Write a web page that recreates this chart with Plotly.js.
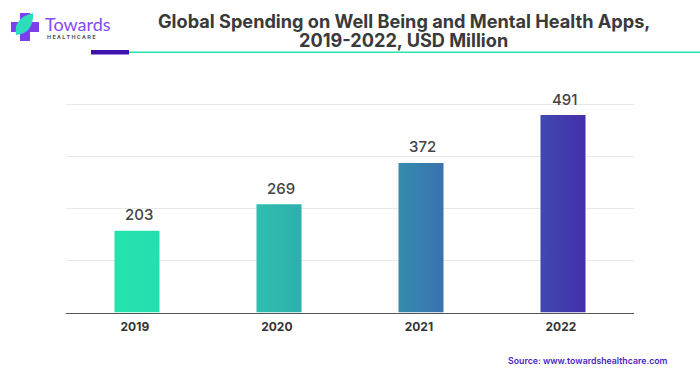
<!DOCTYPE html>
<html>
<head>
<meta charset="utf-8">
<script src="https://cdn.plot.ly/plotly-3.0.1.min.js"></script>
<style>html,body{margin:0;padding:0;background:#fff}#chart{width:700px;height:376px}</style>
</head>
<body>
<div id="chart"></div>
<script>
const years = ['2019', '2020', '2021', '2022'];
const spending = [203, 269, 372, 491];
const gradientStart = ['#26E3AD', '#2EBFAE', '#348CAE', '#404AAE'];
const gradientEnd = ['#24DEB0', '#2EAFAE', '#3A72AE', '#452EAB'];
const titleLine1 = 'Global Spending on Well Being and Mental Health Apps,';
const titleLine2 = '2019-2022, USD Million';
const sourceText = 'Source: www.towardshealthcare.com';

const W = 700, H = 376;
const px = x => x / W;
const py = y => 1 - y / H;
const rect = (x0, y0, x1, y1, color) => ({
  type: 'rect', xref: 'paper', yref: 'paper', layer: 'above',
  x0: px(x0), x1: px(x1), y0: py(y0), y1: py(y1),
  fillcolor: color, line: {width: 0}
});
const note = (x, y, text, size, color, family, anchor, weight) => ({
  xref: 'paper', yref: 'paper', x: px(x), y: py(y), text: text, showarrow: false,
  xanchor: anchor, yanchor: 'middle', align: 'center',
  font: {size: size, color: color, family: family, weight: weight || 400}
});
const leaf = 'M ' + px(16) + ' ' + py(35) +
  ' Q ' + px(13) + ' ' + py(18) + ' ' + px(33) + ' ' + py(13) +
  ' Q ' + px(34) + ' ' + py(33) + ' ' + px(16) + ' ' + py(35) + ' Z';

const layout = {
  width: W, height: H,
  margin: {l: 0, r: 0, t: 0, b: 0},
  paper_bgcolor: '#fff', plot_bgcolor: '#fff',
  showlegend: false,
  bargap: 0.683,
  xaxis: {
    type: 'category',
    range: [-0.5, 3.5],
    domain: [px(66), px(634)],
    showgrid: false, zeroline: false,
    showline: true, linecolor: '#555', linewidth: 1,
    tickmode: 'array',
    tickvals: years.map((y, i) => i - 0.015),
    ticktext: years,
    ticks: 'outside', ticklen: 3, tickcolor: 'rgba(0,0,0,0)',
    tickfont: {family: 'Inter, sans-serif', size: 12, color: '#333', weight: 700}
  },
  yaxis: {
    range: [0, 553.2],
    domain: [py(312.5), py(90)],
    tick0: 0, dtick: 129.6,
    showticklabels: false, ticks: '',
    zeroline: false, showline: false,
    gridcolor: '#E8E8E8', gridwidth: 1
  },
  shapes: [
    rect(20, 13, 30, 41, '#7C3FF0'),
    rect(11, 22, 39, 32, '#7C3FF0'),
    {type: 'path', xref: 'paper', yref: 'paper', layer: 'above', path: leaf,
      fillcolor: '#2BDDBB', line: {width: 0}},
    rect(129, 51.5, 700, 53, '#26E3AD'),
    rect(91, 50, 129, 54.5, '#3F12B0')
  ],
  annotations: [
    note(403.5, 21, titleLine1, 18.15, '#3A3A3A', 'Inter, sans-serif', 'center', 700),
    note(403.5, 39.5, titleLine2, 18.15, '#3A3A3A', 'Inter, sans-serif', 'center', 700),
    note(43, 24, 'Towards', 18, '#8549F5', 'Lato, sans-serif', 'left'),
    note(45, 37, 'H E A L T H C A R E', 5.7, '#555', 'Roboto, sans-serif', 'left', 700),
    note(670, 360.5, sourceText, 8.75, '#4A1FC0', 'Inter, sans-serif', 'right', 600)
  ].concat(years.map((yr, i) => ({
    x: i, y: spending[i], xref: 'x', yref: 'y',
    text: String(spending[i]), showarrow: false,
    xanchor: 'center', yanchor: 'middle', xshift: 1.5, yshift: 16,
    font: {family: 'Inter, sans-serif', size: 15, color: '#444', weight: 500}
  })))
};

const trace = {
  type: 'bar', x: years, y: spending,
  marker: {color: gradientEnd, line: {width: 0}},
  hoverinfo: 'x+y', cliponaxis: false
};

Plotly.newPlot('chart', [trace], layout, {displayModeBar: false, responsive: false}).then(gd => {
  const svg = gd.querySelector('svg.main-svg');
  const NS = 'http://www.w3.org/2000/svg';
  const defs = svg.querySelector('defs') || svg.insertBefore(document.createElementNS(NS, 'defs'), svg.firstChild);
  gd.querySelectorAll('.bars .point path').forEach((p, i) => {
    const g = document.createElementNS(NS, 'linearGradient');
    g.setAttribute('id', 'barFill' + i);
    [[0, gradientStart[i]], [1, gradientEnd[i]]].forEach(([o, c]) => {
      const s = document.createElementNS(NS, 'stop');
      s.setAttribute('offset', o);
      s.setAttribute('stop-color', c);
      g.appendChild(s);
    });
    defs.appendChild(g);
    p.style.fill = 'url(#barFill' + i + ')';
  });
});
</script>
</body>
</html>
